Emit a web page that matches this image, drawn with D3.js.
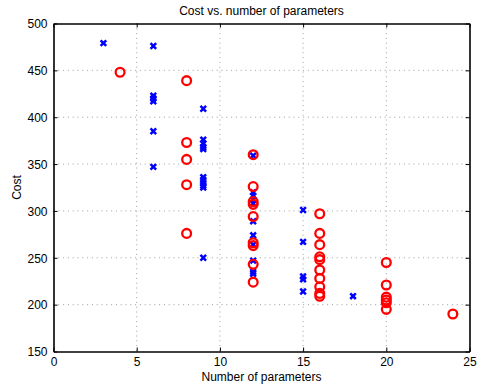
<!DOCTYPE html>
<html>
<head>
<meta charset="utf-8">
<script src="https://cdn.jsdelivr.net/npm/d3@7"></script>
<style>
  body { margin: 0; background: #fff; }
  text { font-family: "Liberation Sans", Arial, sans-serif; fill: #000; }
</style>
</head>
<body>
<div id="chart"></div>
<script>
const WIDTH = 477;
const HEIGHT = 388;

// blue x markers
const blueParams = [3, 6, 6, 6, 6, 6, 6, 9, 9, 9, 9, 9, 9, 9, 9, 9, 9, 9,
    12, 12, 12, 12, 12, 12, 12, 12, 12, 12, 12, 15, 15, 15, 15, 15, 18];
const blueCost = [479, 476, 423, 420, 417, 385, 347, 409, 376, 372, 368, 366, 336, 333, 330, 327, 325, 250,
    359, 320, 316, 312, 308, 289, 274, 264, 247, 235, 233, 301, 267, 230, 227, 214, 209];

// red circles
const redParams = [4, 8, 8, 8, 8, 8, 12, 12, 12, 12, 12, 12, 12, 12, 12,
    16, 16, 16, 16, 16, 16, 16, 16, 16, 16, 20, 20, 20, 20, 20, 20, 24];
const redCost = [448, 439, 373, 355, 328, 276, 360, 326, 310, 307, 294, 266, 263, 243, 224,
    297, 276, 264, 251, 248, 237, 228, 219, 212, 209, 245, 221, 208, 205, 202, 195, 190];

const xTicks = [0, 5, 10, 15, 20, 25];
const yTicks = [150, 200, 250, 300, 350, 400, 450, 500];

const MARGIN = { TOP: 23.5, BOTTOM: 36.5, LEFT: 53.5, RIGHT: 7.5 };
const widthSVG = WIDTH - MARGIN.LEFT - MARGIN.RIGHT;
const heightSVG = HEIGHT - MARGIN.TOP - MARGIN.BOTTOM;

const svg = d3.select('#chart')
    .append('svg')
    .attr('width', WIDTH)
    .attr('height', HEIGHT);

const container = svg.append('g')
    .attr('transform', `translate(${MARGIN.LEFT}, ${MARGIN.TOP})`);

const x = d3.scaleLinear().domain([0, 25]).range([0, widthSVG]);
const y = d3.scaleLinear().domain([150, 500]).range([heightSVG, 0]);

// dotted grid
container.selectAll('.gx')
    .data(xTicks.slice(1, -1))
    .enter().append('line')
    .attr('x1', d => x(d)).attr('x2', d => x(d))
    .attr('y1', 0).attr('y2', heightSVG)
    .attr('stroke', '#888').attr('stroke-width', 0.8)
    .attr('stroke-dasharray', '1,3.8');

container.selectAll('.gy')
    .data(yTicks.slice(1, -1))
    .enter().append('line')
    .attr('y1', d => y(d)).attr('y2', d => y(d))
    .attr('x1', 0).attr('x2', widthSVG)
    .attr('stroke', '#888').attr('stroke-width', 0.8)
    .attr('stroke-dasharray', '1,3.8');

// axes with inward ticks
const xAxis = container.append('g')
    .attr('transform', `translate(0, ${heightSVG})`)
    .call(d3.axisBottom(x).tickValues(xTicks).tickSizeInner(-4).tickSizeOuter(0).tickPadding(6));
const xTop = container.append('g')
    .call(d3.axisTop(x).tickValues(xTicks).tickSizeInner(-4).tickSizeOuter(0).tickFormat(''));
const yAxis = container.append('g')
    .call(d3.axisLeft(y).tickValues(yTicks).tickSizeInner(-4).tickSizeOuter(0).tickPadding(6));
const yRight = container.append('g')
    .attr('transform', `translate(${widthSVG}, 0)`)
    .call(d3.axisRight(y).tickValues(yTicks).tickSizeInner(-4).tickSizeOuter(0).tickFormat(''));

[xAxis, xTop, yAxis, yRight].forEach(a => {
    a.select('.domain').attr('stroke', '#000').attr('stroke-width', 1.6);
    a.selectAll('.tick line').attr('stroke', '#000').attr('stroke-width', 1);
    a.selectAll('text').style('font-family', '"Liberation Sans", Arial, sans-serif')
        .style('font-size', '12px').attr('fill', '#000');
});
yAxis.selectAll('text').attr('dy', '0.36em');

// blue x markers
const S = 2.8;
container.selectAll('.bx')
    .data(blueParams.map((p, i) => ({ p, c: blueCost[i] })))
    .enter().append('path')
    .attr('class', 'bx')
    .attr('transform', d => `translate(${x(d.p)}, ${y(d.c)})`)
    .attr('d', `M${-S},${-S}L${S},${S}M${-S},${S}L${S},${-S}`)
    .attr('stroke', '#0000ff')
    .attr('stroke-width', 2.5)
    .attr('fill', 'none');

// red circles
container.selectAll('.rc')
    .data(redParams.map((p, i) => ({ p, c: redCost[i] })))
    .enter().append('circle')
    .attr('class', 'rc')
    .attr('cx', d => x(d.p))
    .attr('cy', d => y(d.c))
    .attr('r', 4.4)
    .attr('fill', 'none')
    .attr('stroke', '#ff0000')
    .attr('stroke-width', 2.3);

// labels
svg.append('text')
    .attr('x', MARGIN.LEFT + widthSVG / 2).attr('y', 15)
    .attr('text-anchor', 'middle')
    .style('font-size', '12px')
    .text('Cost vs. number of parameters');

svg.append('text')
    .attr('x', MARGIN.LEFT + widthSVG / 2).attr('y', 381)
    .attr('text-anchor', 'middle')
    .style('font-size', '12px')
    .text('Number of parameters');

svg.append('text')
    .attr('transform', `translate(21, ${MARGIN.TOP + heightSVG / 2}) rotate(-90)`)
    .attr('text-anchor', 'middle')
    .style('font-size', '12px')
    .text('Cost');
</script>
</body>
</html>
